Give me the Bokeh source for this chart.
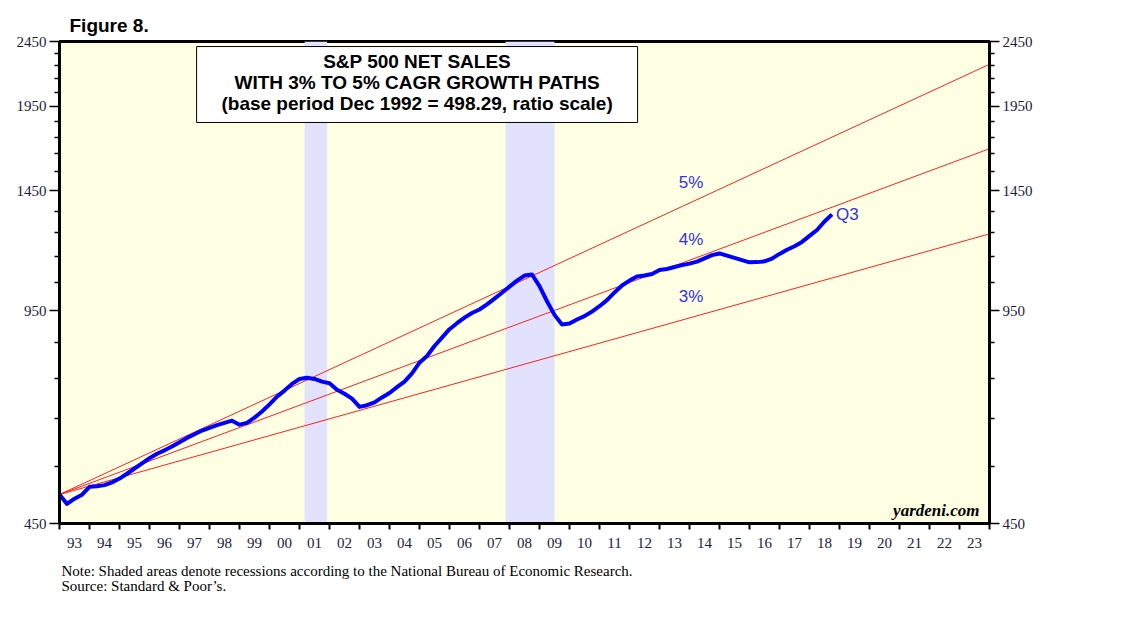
import pandas as pd
from bokeh.plotting import figure
from bokeh.models import (Range1d, FixedTicker, LogAxis, PrintfTickFormatter, BoxAnnotation,
                          Label, Title, ColumnDataSource, CustomJSTickFormatter)
from bokeh.embed import file_html
from bokeh.resources import INLINE
from bokeh.core.properties import value

# ---------------- data ----------------
first_quarter = "1992Q4"
last_quarter = "2018Q3"
net_sales = [
    498.29, 482, 491, 498, 512, 513, 515, 520,
    527, 536, 546, 556, 566, 575, 582, 590,
    599, 608, 616, 624, 630, 636, 641, 646,
    637, 641, 653, 667, 684, 703, 718, 735,
    748, 751, 748, 741, 737, 720, 710, 698,
    678, 682, 689, 701, 712, 727, 741, 763,
    792, 811, 840, 865, 891, 910, 928, 943,
    955, 972, 992, 1013, 1035, 1057, 1076, 1080,
    1037, 983, 937, 906, 909, 922, 933, 948,
    966, 987, 1014, 1039, 1057, 1072, 1076, 1082,
    1097, 1101, 1109, 1116, 1122, 1130, 1143, 1156,
    1163, 1154, 1145, 1136, 1127, 1128, 1131, 1142,
    1161, 1178, 1193, 1211, 1237, 1263, 1301, 1334,
]
cagr_labels = ["5%", "4%", "3%"]
path_start_year = 1993.0
path_end_year = 2024.0
path_start_value = 498.29
path_end_values = [2261.3, 1680.8, 1245.8]
recession_start = [2001.17, 2007.87]
recession_end = [2001.92, 2009.50]
y_major_ticks = [450, 950, 1450, 1950, 2450]
y_minor_ticks = [v for v in range(550, 2450, 100) if v not in y_major_ticks]
years = list(range(1993, 2024))
headline = ["S&P 500 NET SALES",
            "WITH 3% TO 5% CAGR GROWTH PATHS",
            "(base period Dec 1992 = 498.29, ratio scale)"]

periods = pd.period_range(first_quarter, last_quarter, freq="Q")
t = [pr.qyear + pr.quarter / 4.0 for pr in periods]

SERIF = "Liberation Serif"
SANS = "Liberation Sans"
LABEL_COLOR = "#1c1c3c"
BLUE_TXT = "#3232e6"

p = figure(frame_width=930, frame_height=482,
           x_range=Range1d(1993, 2024), y_range=Range1d(450, 2450),
           y_axis_type="log", output_backend="svg", toolbar_location=None,
           min_border_left=59, min_border_right=60, min_border_top=41, min_border_bottom=10,
           background_fill_color="#ffffe3", border_fill_color="white")
p.grid.visible = False
p.outline_line_color = "black"
p.outline_line_width = 3

# title
p.title.text = "Figure 8."
p.title.align = "left"
p.title.offset = 10
p.title.standoff = 11
p.title.text_font = SANS
p.title.text_font_size = "19px"
p.title.text_font_style = "bold"
p.title.text_color = "black"

# recessions
for a, b in zip(recession_start, recession_end):
    p.add_layout(BoxAnnotation(left=a, right=b, fill_color="#e2e2fc", fill_alpha=1.0,
                               line_color=None, level="underlay"))

# growth paths
for end_v in path_end_values:
    p.line([path_start_year, path_end_year], [path_start_value, end_v],
           line_color="#ff2020", line_width=1)

# labels for growth paths (placed above each path at 2014)
lab_year = 2014.0
frac = (lab_year - path_start_year) / (path_end_year - path_start_year)
lab_y = [path_start_value * (ev / path_start_value) ** frac for ev in path_end_values]
src_lab = ColumnDataSource(dict(x=[lab_year + 0.05] * 3, y=lab_y, text=cagr_labels))
p.text(x="x", y="y", text="text", source=src_lab, text_font=value(SANS),
       text_font_size="17px", text_color=BLUE_TXT, text_align="center",
       text_baseline="middle", y_offset=-21)

# series
p.line(t, net_sales, line_color="#0000ff", line_width=4, line_join="round")
p.text(x=[t[-1]], y=[net_sales[-1]], text=["Q3"], text_font=value(SANS),
       text_font_size="17px", text_color=BLUE_TXT, text_align="left",
       text_baseline="middle", x_offset=4, y_offset=0)

# title box
box_left, box_right, box_top, box_bottom = 1997.57, 2012.27, 2407, 1843
p.add_layout(BoxAnnotation(left=box_left, right=box_right, top=box_top, bottom=box_bottom,
                           fill_color="white", fill_alpha=1.0, line_color="black",
                           line_alpha=1.0, line_width=1))
for i, line in enumerate(headline):
    p.add_layout(Label(x=(box_left + box_right) / 2, y=box_top, y_offset=-15 - 21 * i,
                       text=line, text_font=SANS, text_font_size="19px",
                       text_font_style="bold", text_align="center",
                       text_baseline="middle", text_color="black"))

p.add_layout(Label(x=2024, y=450, x_offset=-10, y_offset=4, text="yardeni.com",
                   text_font=SERIF, text_font_size="17px", text_font_style="bold italic",
                   text_align="right", text_baseline="bottom", text_color="black"))

# axes
def style_y(ax, align):
    ax.ticker = FixedTicker(ticks=y_major_ticks, minor_ticks=y_minor_ticks)
    ax.formatter = PrintfTickFormatter(format="%d")
    ax.axis_line_width = 3
    ax.axis_line_color = "black"
    ax.major_tick_out = 10
    ax.major_tick_in = 0
    ax.major_tick_line_width = 1.5
    ax.minor_tick_out = 5
    ax.minor_tick_in = 0
    ax.minor_tick_line_width = 1.5
    ax.major_label_standoff = 3
    ax.major_label_text_font = SERIF
    ax.major_label_text_font_size = "15px"
    ax.major_label_text_color = LABEL_COLOR
    ax.major_label_text_align = align

style_y(p.yaxis[0], "right")
right_ax = LogAxis()
style_y(right_ax, "left")
p.add_layout(right_ax, "right")

xa = p.xaxis[0]
xa.ticker = FixedTicker(ticks=[y + 0.5 for y in years], minor_ticks=list(range(1993, 2025)))
xa.formatter = CustomJSTickFormatter(code="var y = Math.floor(tick) % 100; return (y < 10 ? '0' : '') + y;")
xa.axis_line_width = 3
xa.axis_line_color = "black"
xa.major_tick_out = 0
xa.major_tick_in = 0
xa.minor_tick_out = 6
xa.minor_tick_in = 0
xa.minor_tick_line_width = 2
xa.major_label_standoff = 8
xa.major_label_text_font = SERIF
xa.major_label_text_font_size = "15px"
xa.major_label_text_color = LABEL_COLOR

p.add_layout(Title(text="Note: Shaded areas denote recessions according to the National Bureau of Economic Research.\nSource: Standard & Poor\u2019s.",
                   align="left", offset=2, text_font=SERIF, text_font_size="15px",
                   text_line_height=0.95,
                   text_font_style="normal", text_color="black", standoff=22), "below")

open("out.html", "w").write(file_html(p, INLINE))
